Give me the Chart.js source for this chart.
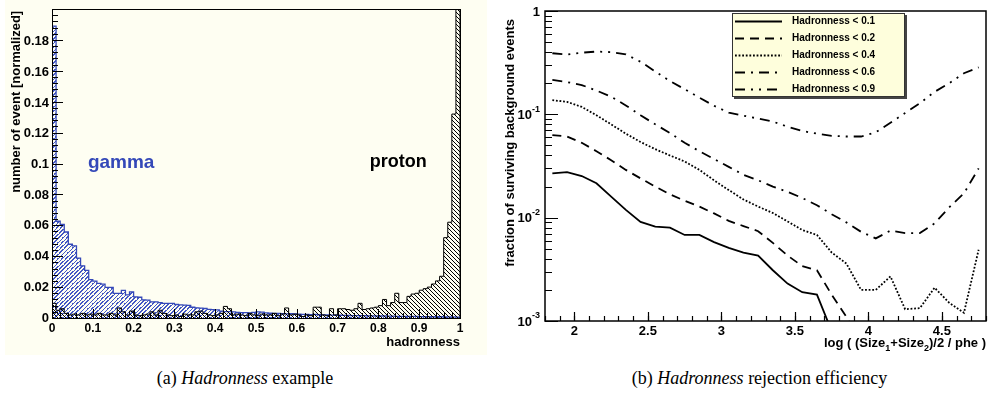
<!DOCTYPE html>
<html>
<head>
<meta charset="utf-8">
<script src="https://cdn.jsdelivr.net/npm/chart.js@4.4.1/dist/chart.umd.min.js"></script>
<style>
  html, body { margin: 0; padding: 0; background: #fff; }
  body { width: 989px; height: 394px; position: relative; overflow: hidden; }
  #gammaChart, #protonChart { position: absolute; left: 0; top: 0; }
  #rejectionChart { position: absolute; left: 490px; top: 0; }
  .caption { position: absolute; top: 366px; font-family: "Liberation Serif", "Times New Roman", serif; font-size: 18px; line-height: 24px; text-align: center; color: #000; }
</style>
</head>
<body>
<canvas id="gammaChart" width="490" height="360"></canvas>
<canvas id="protonChart" width="490" height="360"></canvas>
<canvas id="rejectionChart" width="499" height="360"></canvas>
<div class="caption" style="left:0;width:490px">(a) <i>Hadronness</i> example</div>
<div class="caption" style="left:515px;width:489px">(b) <i>Hadronness</i> rejection efficiency</div>
<script>
// hadronness histograms, 100 bins of 0.01, normalized
const binWidth = 0.01;
const gammaFrac = [
  0.190, 0.063, 0.061, 0.056, 0.048, 0.047, 0.039, 0.034, 0.031, 0.025,
  0.024, 0.0225, 0.022, 0.020, 0.020, 0.016, 0.016, 0.018, 0.015, 0.017,
  0.0137, 0.0135, 0.0118, 0.0116, 0.0105, 0.0105, 0.0100, 0.0095, 0.0095, 0.0095,
  0.0088, 0.0085, 0.0084, 0.0082, 0.0070, 0.0066, 0.0064, 0.0062, 0.0056, 0.0054,
  0.0053, 0.0045, 0.0042, 0.0041, 0.0040, 0.0036, 0.0035, 0.0035, 0.0034, 0.0036,
  0.0040, 0.0038, 0.0034, 0.0031, 0.0030, 0.0030, 0.0029, 0.0027, 0.0028, 0.0026,
  0.0025, 0.0024, 0.0024, 0.0022, 0.0023, 0.0021, 0.0020, 0.0020, 0.0019, 0.0018,
  0.0018, 0.0017, 0.0017, 0.0016, 0.0016, 0.0015, 0.0015, 0.0014, 0.0014, 0.0013,
  0.0013, 0.0013, 0.0012, 0.0012, 0.0011, 0.0011, 0.0011, 0.0010, 0.0010, 0.0010,
  0.0009, 0.0009, 0.0009, 0.0008, 0.0008, 0.0008, 0.0007, 0.0007, 0.0007, 0.0006
];
const protonFrac = [
  0.0095, 0.005, 0.006, 0.003, 0.002, 0.0025, 0.002, 0.003, 0.002, 0.0025,
  0.002, 0.003, 0.002, 0.002, 0.003, 0.002, 0.0065, 0.004, 0.002, 0.0045,
  0.002, 0.0015, 0.002, 0.0025, 0.004, 0.002, 0.005, 0.003, 0.002, 0.0015,
  0.002, 0.001, 0.0025, 0.002, 0.002, 0.004, 0.0045, 0.003, 0.002, 0.0015,
  0.002, 0.003, 0.0075, 0.006, 0.002, 0.0025, 0.002, 0.0015, 0.003, 0.002,
  0.0015, 0.0025, 0.002, 0.002, 0.003, 0.0015, 0.0025, 0.0065, 0.002, 0.0025,
  0.002, 0.001, 0.002, 0.0015, 0.007, 0.007, 0.002, 0.0015, 0.006, 0.002,
  0.006, 0.006, 0.0055, 0.005, 0.006, 0.0095, 0.0055, 0.006, 0.0065, 0.007,
  0.008, 0.012, 0.008, 0.010, 0.016, 0.010, 0.010, 0.014, 0.0155, 0.016,
  0.018, 0.019, 0.020, 0.022, 0.024, 0.027, 0.052, 0.062, 0.132, 0.25
];
const hadronTicks = [0, 0.1, 0.2, 0.3, 0.4, 0.5, 0.6, 0.7, 0.8, 0.9, 1];
const fractionTicks = [0, 0.02, 0.04, 0.06, 0.08, 0.1, 0.12, 0.14, 0.16, 0.18];

// surviving background fraction vs log size, one curve per hadronness cut
const logSize = [1.85, 1.95, 2.05, 2.15, 2.25, 2.35, 2.45, 2.55, 2.65, 2.75,
  2.85, 2.95, 3.05, 3.15, 3.25, 3.35, 3.45, 3.55, 3.65, 3.75,
  3.85, 3.95, 4.05, 4.15, 4.25, 4.35, 4.45, 4.55, 4.65, 4.75];
const hadLt01 = [0.0268, 0.0276, 0.0253, 0.0215, 0.0160, 0.0119, 0.0091, 0.0082, 0.0080, 0.0068,
  0.0068, 0.0058, 0.0051, 0.0046, 0.0043, 0.0031, 0.0023, 0.0019, 0.0018, 0.0008,
  null, null, null, null, null, null, null, null, null, null];
const hadLt02 = [0.063, 0.061, 0.053, 0.044, 0.036, 0.029, 0.024, 0.020, 0.0168, 0.0146,
  0.0128, 0.0110, 0.0093, 0.0083, 0.0074, 0.0057, 0.0043, 0.0034, 0.0031, 0.0018,
  0.0011, 0.0006, null, null, null, null, null, null, null, null];
const hadLt04 = [0.137, 0.132, 0.118, 0.098, 0.080, 0.065, 0.054, 0.046, 0.040, 0.035,
  0.029, 0.023, 0.0185, 0.0150, 0.0128, 0.0111, 0.0092, 0.0076, 0.0068, 0.0046,
  0.0036, 0.0020, 0.0020, 0.0027, 0.0013, 0.00133, 0.0021, 0.0015, 0.0012, 0.0049];
const hadLt06 = [0.215, 0.205, 0.192, 0.170, 0.148, 0.122, 0.098, 0.080, 0.066, 0.053,
  0.044, 0.037, 0.031, 0.026, 0.023, 0.020, 0.0178, 0.0155, 0.0132, 0.0108,
  0.0090, 0.0073, 0.0063, 0.0075, 0.0071, 0.0071, 0.0088, 0.0126, 0.0172, 0.030];
const hadLt09 = [0.39, 0.38, 0.395, 0.405, 0.40, 0.38, 0.323, 0.26, 0.21, 0.175,
  0.145, 0.121, 0.104, 0.097, 0.091, 0.085, 0.076, 0.069, 0.065, 0.062,
  0.061, 0.061, 0.067, 0.083, 0.103, 0.128, 0.165, 0.200, 0.250, 0.285];
const cutLabels = ['Hadronness < 0.1', 'Hadronness < 0.2', 'Hadronness < 0.4', 'Hadronness < 0.6', 'Hadronness < 0.9'];
const sizeTicks = [2, 2.5, 3, 3.5, 4, 4.5];
const decadeTicks = [0.001, 0.01, 0.1, 1];

const gammaBlue = '#3448b8';
const gammaHatchColor = '#4357c4';
const padYellow = '#fefef2';
const sans = '"Liberation Sans", Arial, Helvetica, sans-serif';

Chart.defaults.font.family = sans;
Chart.defaults.color = '#000';

// "/" hatch as a striped diagonal gradient: t = (x + y) / span
function stripeHatch(canvas, color, clear, spacing) {
  const ctx = canvas.getContext('2d');
  const span = canvas.width + canvas.height;
  const g = ctx.createLinearGradient(0, 0, span / 2, span / 2);
  for (let s = 0; s < span; s += spacing) {
    const a = s / span;
    const b = Math.min((s + 1.2) / span, 1);
    g.addColorStop(a, clear);
    g.addColorStop(a, color);
    g.addColorStop(b, color);
    g.addColorStop(b, clear);
  }
  return g;
}

// "\" hatch from a small tile
function tileHatch(canvas, color, size) {
  const tile = document.createElement('canvas');
  tile.width = tile.height = size;
  const g = tile.getContext('2d');
  g.fillStyle = color;
  for (let i = 0; i < size; i++) g.fillRect(i, i, 1, 1);
  return canvas.getContext('2d').createPattern(tile, 'repeat');
}

// bin left edges as step points, closed down to zero at both ends
function histPoints(values) {
  const pts = [{ x: 0, y: 0 }];
  values.forEach((v, i) => pts.push({ x: +(i * binWidth).toFixed(2), y: v }));
  pts.push({ x: 1, y: 0 });
  return pts;
}

function curvePoints(values) {
  return logSize.map((x, i) => ({ x, y: values[i] })).filter(p => p.y !== null);
}

function steps(from, to, step) {
  const out = [];
  for (let v = from; v <= to + 1e-9; v += step) out.push(+v.toFixed(4));
  return out;
}

// inward ticks, ROOT style
function tickMarks(ctx, area, scale, values, len, horizontal) {
  ctx.beginPath();
  values.forEach(v => {
    const p = Math.round(scale.getPixelForValue(v)) + 0.5;
    if (horizontal) {
      ctx.moveTo(p, area.bottom);
      ctx.lineTo(p, area.bottom - len);
    } else {
      ctx.moveTo(area.left, p);
      ctx.lineTo(area.left + len, p);
    }
  });
  ctx.stroke();
}

// yellow pad under the gamma layer
const hadronPad = {
  id: 'hadronPad',
  beforeDraw(chart) {
    const { ctx } = chart;
    ctx.save();
    ctx.fillStyle = padYellow;
    ctx.fillRect(5, 0, 482, 355);
    ctx.restore();
  }
};

// frame, ticks and labels on the proton layer, above both histograms
const hadronFrame = {
  id: 'hadronFrame',
  afterDatasetsDraw(chart) {
    const { ctx, chartArea: a, scales: { x, y } } = chart;
    ctx.save();
    ctx.strokeStyle = '#000';
    ctx.lineWidth = 1;
    ctx.strokeRect(Math.round(a.left) + 0.5, Math.round(a.top) + 0.5,
      Math.round(a.right - a.left), Math.round(a.bottom - a.top));
    tickMarks(ctx, a, x, hadronTicks, 9, true);
    tickMarks(ctx, a, x, steps(0, 1, 0.02), 5, true);
    tickMarks(ctx, a, y, fractionTicks, 11, false);
    tickMarks(ctx, a, y, steps(0, 0.2, 0.004), 6, false);

    ctx.textAlign = 'left';
    ctx.textBaseline = 'alphabetic';
    ctx.font = 'bold 19px ' + sans;
    ctx.fillStyle = gammaBlue;
    ctx.fillText('gamma', x.getPixelForValue(0.088), y.getPixelForValue(0.097));
    ctx.font = 'bold 18px ' + sans;
    ctx.fillStyle = '#000';
    ctx.fillText('proton', x.getPixelForValue(0.779), y.getPixelForValue(0.098));
    ctx.restore();
  }
};

// both layers share one layout so their scales line up pixel for pixel
function hadronOptions(showAxes) {
  return {
    responsive: false,
    animation: false,
    events: [],
    layout: { padding: { left: 0, top: 9, right: 30, bottom: 0 } },
    plugins: { legend: { display: false }, tooltip: { enabled: false } },
    scales: {
      x: {
        type: 'linear',
        min: 0,
        max: 1,
        afterBuildTicks: s => { s.ticks = hadronTicks.map(v => ({ value: v })); },
        afterFit: s => { s.height = 42; },
        grid: { display: false, drawTicks: false },
        border: { display: false },
        ticks: {
          display: showAxes,
          padding: 3,
          maxRotation: 0,
          autoSkip: false,
          font: { size: 12, weight: 'bold' },
          callback: v => +v.toFixed(2)
        },
        title: {
          display: showAxes,
          text: 'hadronness',
          align: 'end',
          font: { size: 13, weight: 'bold' },
          padding: { top: 4, bottom: 10 }
        }
      },
      y: {
        type: 'linear',
        min: 0,
        max: 0.2,
        afterBuildTicks: s => { s.ticks = fractionTicks.map(v => ({ value: v })); },
        afterFit: s => { s.width = 52; },
        grid: { display: false, drawTicks: false },
        border: { display: false },
        ticks: {
          display: showAxes,
          padding: 3,
          autoSkip: false,
          font: { size: 13, weight: 'bold' },
          callback: v => +v.toFixed(2)
        },
        title: {
          display: showAxes,
          text: 'number of event [normalized]',
          align: 'end',
          font: { size: 13, weight: 'bold' },
          padding: { top: 9, bottom: 0 }
        }
      }
    }
  };
}

const gammaCanvas = document.getElementById('gammaChart');
const protonCanvas = document.getElementById('protonChart');

new Chart(gammaCanvas, {
  type: 'line',
  data: {
    datasets: [{
      label: 'gamma',
      data: histPoints(gammaFrac),
      stepped: true,
      borderColor: gammaBlue,
      borderWidth: 1.3,
      backgroundColor: stripeHatch(gammaCanvas, gammaHatchColor, 'rgba(67,87,196,0)', 4),
      fill: 'origin',
      pointRadius: 0
    }]
  },
  options: hadronOptions(true),
  plugins: [hadronPad]
});

new Chart(protonCanvas, {
  type: 'line',
  data: {
    datasets: [{
      label: 'proton',
      data: histPoints(protonFrac),
      stepped: true,
      borderColor: '#000',
      borderWidth: 1,
      backgroundColor: tileHatch(protonCanvas, '#000', 4),
      fill: 'origin',
      pointRadius: 0
    }]
  },
  options: hadronOptions(false),
  plugins: [hadronFrame]
});

const cutDashes = [[], [9, 6], [1.8, 1.8], [10, 6, 2, 6], [10, 6, 2, 6, 2, 6]];

const rejectionPad = {
  id: 'rejectionPad',
  afterDatasetsDraw(chart) {
    const { ctx, chartArea: a, scales: { x, y } } = chart;
    ctx.save();
    ctx.strokeStyle = '#000';
    ctx.lineWidth = 1.5;
    ctx.strokeRect(Math.round(a.left), Math.round(a.top),
      Math.round(a.right - a.left), Math.round(a.bottom - a.top));
    ctx.lineWidth = 1.2;
    tickMarks(ctx, a, x, sizeTicks, 9, true);
    tickMarks(ctx, a, x, steps(1.8, 4.8, 0.1), 5, true);
    tickMarks(ctx, a, y, decadeTicks, 13, false);
    const minor = [];
    decadeTicks.slice(0, -1).forEach(d => { for (let m = 2; m <= 9; m++) minor.push(d * m); });
    tickMarks(ctx, a, y, minor, 7, false);

    // decade labels 1, 10^-1, 10^-2, 10^-3
    ctx.fillStyle = '#000';
    ctx.textAlign = 'right';
    ctx.textBaseline = 'middle';
    decadeTicks.forEach(v => {
      const py = y.getPixelForValue(v);
      const exp = Math.round(Math.log10(v));
      if (exp === 0) {
        ctx.font = 'bold 13px ' + sans;
        ctx.fillText('1', a.left - 5, py + 1);
      } else {
        ctx.font = 'bold 9px ' + sans;
        const e = String(exp);
        ctx.fillText(e, a.left - 5, py - 5);
        const w = ctx.measureText(e).width;
        ctx.font = 'bold 13px ' + sans;
        ctx.fillText('10', a.left - 5 - w, py + 1);
      }
    });

    // axis titles
    ctx.font = 'bold 13px ' + sans;
    ctx.save();
    ctx.translate(20, 19);
    ctx.rotate(-Math.PI / 2);
    ctx.textAlign = 'right';
    ctx.fillText('fraction of surviving background events', 0, 0);
    ctx.restore();

    const parts = [['log ( (Size', 0], ['1', 1], ['+Size', 0], ['2', 1], [')/2 / phe )', 0]];
    const fontFor = sub => sub ? 'bold 9px ' + sans : 'bold 13px ' + sans;
    let total = 0;
    parts.forEach(([t, sub]) => { ctx.font = fontFor(sub); total += ctx.measureText(t).width; });
    let px = a.right - total;
    ctx.textAlign = 'left';
    ctx.textBaseline = 'alphabetic';
    parts.forEach(([t, sub]) => {
      ctx.font = fontFor(sub);
      ctx.fillText(t, px, sub ? 351 : 347);
      px += ctx.measureText(t).width;
    });

    // legend box with shadow
    const box = { left: a.left + 187, top: a.top + 2, width: 173, height: 84 };
    ctx.fillStyle = '#444';
    ctx.fillRect(box.left + 2, box.top + 2, box.width, box.height);
    ctx.fillStyle = '#fefedc';
    ctx.fillRect(box.left, box.top, box.width, box.height);
    ctx.lineWidth = 1;
    ctx.strokeStyle = '#333';
    ctx.strokeRect(box.left + 0.5, box.top + 0.5, box.width - 1, box.height - 1);
    const rowH = box.height / chart.data.datasets.length;
    chart.data.datasets.forEach((ds, i) => {
      const cy = Math.round(box.top + rowH * (i + 0.5)) + 0.5;
      ctx.strokeStyle = '#000';
      ctx.lineWidth = ds.borderWidth;
      ctx.setLineDash(ds.borderDash);
      ctx.beginPath();
      ctx.moveTo(box.left + 3, cy);
      ctx.lineTo(box.left + 50, cy);
      ctx.stroke();
      ctx.setLineDash([]);
      ctx.fillStyle = '#000';
      ctx.font = 'bold 10px ' + sans;
      ctx.textBaseline = 'middle';
      ctx.fillText(ds.label, box.left + 60, cy);
    });
    ctx.restore();
  }
};

new Chart(document.getElementById('rejectionChart'), {
  type: 'line',
  data: {
    datasets: [hadLt01, hadLt02, hadLt04, hadLt06, hadLt09].map((vals, i) => ({
      label: cutLabels[i],
      data: curvePoints(vals),
      borderColor: '#000',
      borderWidth: 1.8,
      borderDash: cutDashes[i],
      pointRadius: 0,
      fill: false,
      tension: 0
    }))
  },
  options: {
    responsive: false,
    animation: false,
    events: [],
    layout: { padding: { left: 0, top: 11, right: 3, bottom: 0 } },
    plugins: { legend: { display: false }, tooltip: { enabled: false } },
    scales: {
      x: {
        type: 'linear',
        min: 1.8,
        max: 4.8,
        afterBuildTicks: s => { s.ticks = sizeTicks.map(v => ({ value: v })); },
        afterFit: s => { s.height = 39; },
        grid: { display: false, drawTicks: false },
        border: { display: false },
        ticks: {
          padding: 3,
          maxRotation: 0,
          autoSkip: false,
          font: { size: 13, weight: 'bold' },
          callback: v => +v.toFixed(2)
        }
      },
      y: {
        type: 'logarithmic',
        min: 0.001,
        max: 1,
        afterBuildTicks: s => { s.ticks = decadeTicks.map(v => ({ value: v })); },
        afterFit: s => { s.width = 55; },
        grid: { display: false, drawTicks: false },
        border: { display: false },
        ticks: { display: false }
      }
    }
  },
  plugins: [rejectionPad]
});
</script>
</body>
</html>
